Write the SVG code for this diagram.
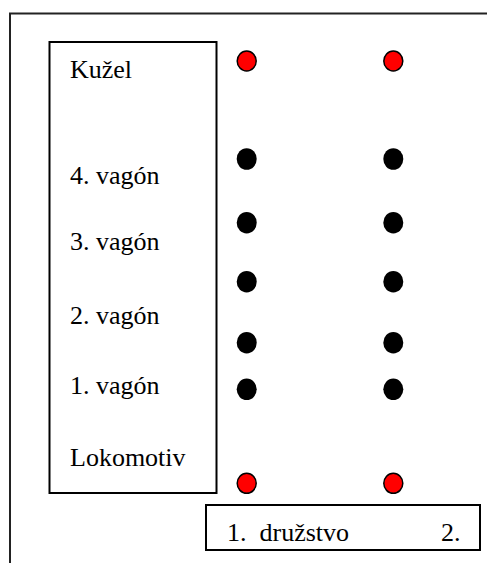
<svg xmlns="http://www.w3.org/2000/svg" width="487" height="563" viewBox="0 0 487 563">
  <style>
    .box { fill: #ffffff; stroke: #000000; stroke-width: 2; }
    text { font-family: 'Liberation Serif', 'Times New Roman', Times, serif; font-size: 26px; fill: #000000; }
    .red { fill: #ff0000; stroke: #000000; stroke-width: 1.5; }
    .black { fill: #000000; }
  </style>
  <rect width="487" height="563" fill="#ffffff"/>

  <!-- outer frame: top and left edges -->
  <g id="frame">
    <path d="M10 564 V13.5 H488" fill="none" stroke="#222222" stroke-width="2"/>
  </g>

  <!-- train labels column -->
  <g id="labels">
    <rect class="box" x="49.5" y="42" width="167" height="451"/>
    <text x="70" y="78">Kužel</text>
    <text x="70" y="184">4. vagón</text>
    <text x="70" y="250">3. vagón</text>
    <text x="70" y="324">2. vagón</text>
    <text x="70" y="394">1. vagón</text>
    <text x="70" y="466">Lokomotiv</text>
  </g>

  <!-- team 1 column -->
  <g id="team1">
    <ellipse class="red" cx="246.7" cy="61" rx="9.5" ry="10"/>
    <ellipse class="black" cx="246.7" cy="159" rx="10" ry="10.8"/>
    <ellipse class="black" cx="246.7" cy="222.7" rx="10" ry="10.8"/>
    <ellipse class="black" cx="246.7" cy="281.7" rx="10" ry="10.8"/>
    <ellipse class="black" cx="246.7" cy="342.7" rx="10" ry="10.8"/>
    <ellipse class="black" cx="246.7" cy="389.3" rx="10" ry="10.8"/>
    <ellipse class="red" cx="246.7" cy="483.3" rx="9.5" ry="10"/>
  </g>

  <!-- team 2 column -->
  <g id="team2">
    <ellipse class="red" cx="393.3" cy="61" rx="9.5" ry="10"/>
    <ellipse class="black" cx="393.3" cy="159" rx="10" ry="10.8"/>
    <ellipse class="black" cx="393.3" cy="222.7" rx="10" ry="10.8"/>
    <ellipse class="black" cx="393.3" cy="281.7" rx="10" ry="10.8"/>
    <ellipse class="black" cx="393.3" cy="342.7" rx="10" ry="10.8"/>
    <ellipse class="black" cx="393.3" cy="389.3" rx="10" ry="10.8"/>
    <ellipse class="red" cx="393.3" cy="483.3" rx="9.5" ry="10"/>
  </g>

  <!-- team caption -->
  <g id="caption">
    <rect class="box" x="206" y="505" width="274" height="45"/>
    <text x="227" y="541" xml:space="preserve">1.  družstvo</text>
    <text x="441" y="541">2.</text>
  </g>

  <g id="connectors"/>
</svg>
